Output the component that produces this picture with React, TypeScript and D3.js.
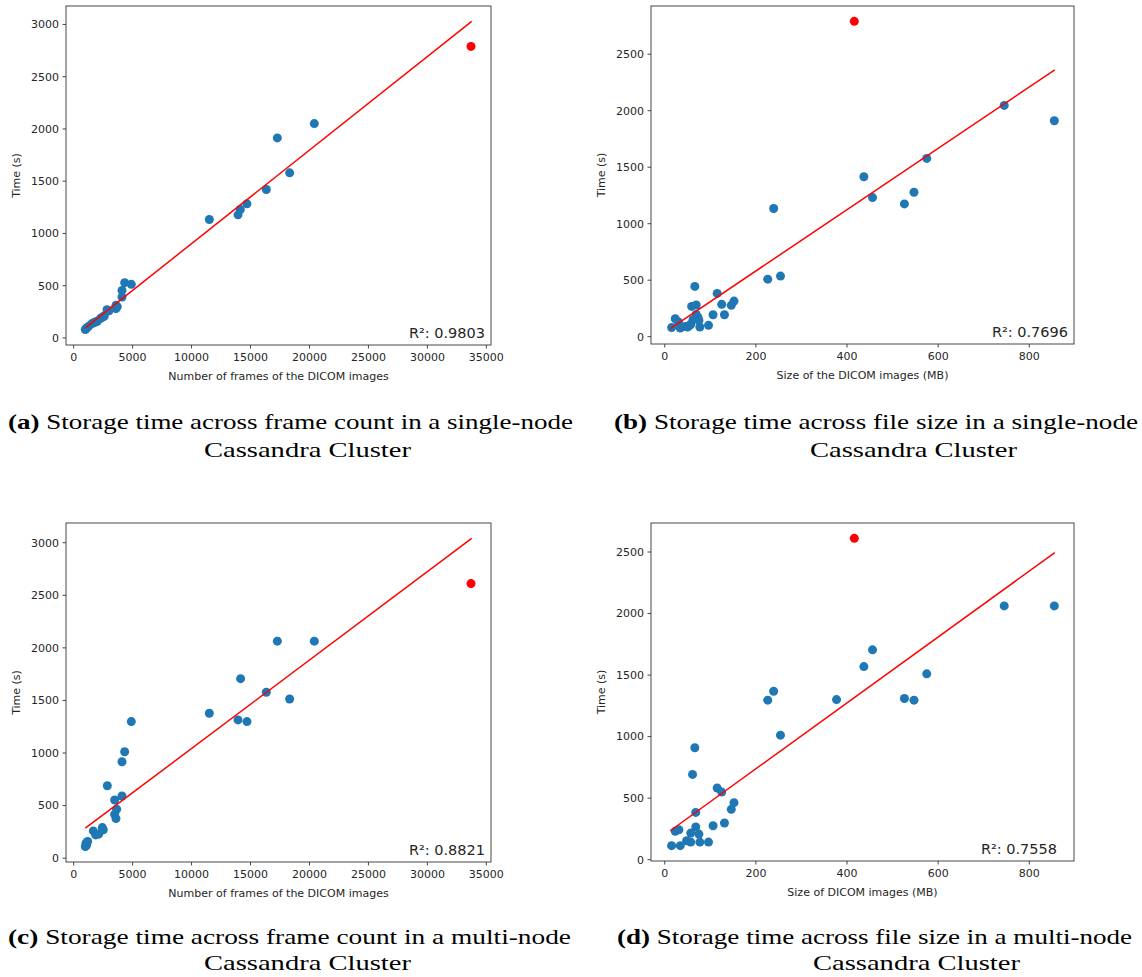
import React from "react";
import * as d3 from "d3";

// storage times
const framesSingle = [990, 1046, 1100, 1272, 1555, 1700, 1838, 2000, 2262, 2460, 2600, 2827, 3000, 3590, 3590, 3700, 4100, 4100, 4326, 4891, 11507, 13940, 14135, 14700, 16340, 17275, 18320, 20410];
const timeSingleByFrames = [80, 89, 95, 111, 137, 145, 153, 160, 185, 200, 210, 271, 260, 280, 312, 300, 392, 455, 529, 513, 1134, 1178, 1229, 1283, 1420, 1914, 1580, 2051];

const framesMulti = [990, 1046, 1100, 1187, 1668, 1866, 2120, 2431, 2516, 2856, 3477, 3477, 3590, 3647, 4100, 4100, 4326, 4891, 11507, 13940, 14160, 14700, 16340, 17275, 18320, 20410];
const timeMultiByFrames = [110, 142, 125, 158, 259, 221, 228, 291, 269, 689, 553, 417, 376, 465, 591, 917, 1012, 1299, 1378, 1315, 1707, 1299, 1578, 2064, 1514, 2064];

const sizeSingle = [15, 23, 30, 34, 45, 50, 55, 57, 59, 62, 66, 69, 69, 73, 75, 77, 96, 106, 115, 125, 131, 146, 152, 226, 239, 254, 437, 456, 526, 547, 575, 745, 855];
const timeSingleBySize = [80, 159, 130, 77, 90, 85, 100, 109, 268, 150, 445, 280, 197, 170, 144, 85, 100, 194, 383, 286, 194, 277, 315, 509, 1134, 536, 1416, 1231, 1175, 1278, 1578, 2047, 1911];

const sizeMulti = [15, 23, 31, 34, 48, 57, 57, 61, 66, 68, 68, 75, 77, 96, 106, 115, 125, 131, 146, 152, 226, 239, 254, 377, 437, 456, 526, 547, 575, 745, 855];
const timeMultiBySize = [114, 230, 243, 114, 154, 143, 216, 693, 909, 384, 265, 208, 143, 143, 276, 582, 549, 298, 409, 463, 1296, 1369, 1012, 1301, 1569, 1705, 1310, 1296, 1510, 2062, 2062];

// the red point (largest study) and regression line ends [x, y]
const outlierA = [33700, 2790];
const outlierB = [416, 2791];
const outlierC = [33700, 2611];
const outlierD = [416, 2611];
const fitA = [[990, 96], [33757, 3029]];
const fitB = [[12, 71], [856, 2362]];
const fitC = [[990, 285], [33757, 3041]];
const fitD = [[12, 235], [856, 2495]];

const r2Labels = ["R²: 0.9803", "R²: 0.7696", "R²: 0.8821", "R²: 0.7558"];

const framesTicks = [0, 5000, 10000, 15000, 20000, 25000, 30000, 35000];
const sizeTicks = [0, 200, 400, 600, 800];
const time3000Ticks = [0, 500, 1000, 1500, 2000, 2500, 3000];
const time2500Ticks = [0, 500, 1000, 1500, 2000, 2500];

const captionLabels = ["(a)", "(b)", "(c)", "(d)"];
const captionLine1 = [
  "Storage time across frame count in a single-node",
  "Storage time across file size in a single-node",
  "Storage time across frame count in a multi-node",
  "Storage time across file size in a multi-node",
];
const captionLine2 = "Cassandra Cluster";

const sans = "'DejaVu Sans', sans-serif";
const serif = "'Liberation Serif', serif";

// matplotlib style autoscale: 5% margin on each side
function padded(vals) {
  const [lo, hi] = d3.extent(vals);
  const m = (hi - lo) * 0.05;
  return [lo - m, hi + m];
}

function Scatter({ box, xs, ys, outlier, fit, xTicks, yTicks, xLabel, r2, r2Shift = 0 }) {
  const { left, top, right, bottom } = box;
  const allX = [...xs, outlier[0], ...fit.map(d => d[0])];
  const allY = [...ys, outlier[1], ...fit.map(d => d[1])];
  const x = d3.scaleLinear().domain(padded(allX)).range([left, right]);
  const y = d3.scaleLinear().domain(padded(allY)).range([bottom, top]);
  const line = d3.line().x(d => x(d[0])).y(d => y(d[1]));

  return (
    <g fontFamily={sans} fill="#262626">
      {xs.map((v, i) => (
        <circle key={i} cx={x(v)} cy={y(ys[i])} r={4.5} fill="#1f77b4" />
      ))}
      <circle cx={x(outlier[0])} cy={y(outlier[1])} r={4.5} fill="red" />
      <path d={line(fit)} stroke="red" strokeWidth={1.5} fill="none" />
      <rect x={left} y={top} width={right - left} height={bottom - top} fill="none" stroke="#333" strokeWidth={0.9} />
      {xTicks.map(t => (
        <g key={t} transform={`translate(${x(t)},${bottom})`}>
          <line y2={3.5} stroke="#333" strokeWidth={0.9} />
          <text y={16} textAnchor="middle" fontSize={11}>{t}</text>
        </g>
      ))}
      {yTicks.map(t => (
        <g key={t} transform={`translate(${left},${y(t)})`}>
          <line x2={-3.5} stroke="#333" strokeWidth={0.9} />
          <text x={-7} dy="0.35em" textAnchor="end" fontSize={11}>{t}</text>
        </g>
      ))}
      <text x={(left + right) / 2} y={bottom + 35} textAnchor="middle" fontSize={11}>{xLabel}</text>
      <text transform={`translate(${left - 46},${(top + bottom) / 2}) rotate(-90)`} textAnchor="middle" fontSize={11}>Time (s)</text>
      <text x={right - 6 - r2Shift} y={bottom - 7} textAnchor="end" fontSize={14.5}>{r2}</text>
    </g>
  );
}

// LaTeX subcaption: first line centred, second line centred past the hanging label
function Caption({ x0, x1, y, label, text, gap = 28 }) {
  return (
    <g fontFamily={serif} fontSize={21} fill="#000">
      <text x={x0} y={y} textLength={x1 - x0} lengthAdjust="spacingAndGlyphs">
        <tspan fontWeight="bold">{label}</tspan> {text}
      </text>
      <text x={x0 + 196} y={y + gap} textLength={207} lengthAdjust="spacingAndGlyphs">{captionLine2}</text>
    </g>
  );
}

export default function App() {
  const boxA = { left: 66, top: 6, right: 491, bottom: 345 };
  const boxB = { left: 651, top: 6, right: 1074, bottom: 344 };
  const boxC = { left: 66, top: 523, right: 491, bottom: 862 };
  const boxD = { left: 651, top: 523, right: 1074, bottom: 861 };
  return (
    <svg width={1142} height={977} style={{ position: "absolute", left: 0, top: 0, background: "#fff" }}>
      <rect width={1142} height={977} fill="#fff" />
      <Scatter box={boxA} xs={framesSingle} ys={timeSingleByFrames} outlier={outlierA} fit={fitA}
        xTicks={framesTicks} yTicks={time3000Ticks} xLabel="Number of frames of the DICOM images" r2={r2Labels[0]} />
      <Scatter box={boxB} xs={sizeSingle} ys={timeSingleBySize} outlier={outlierB} fit={fitB}
        xTicks={sizeTicks} yTicks={time2500Ticks} xLabel="Size of the DICOM images (MB)" r2={r2Labels[1]} />
      <Scatter box={boxC} xs={framesMulti} ys={timeMultiByFrames} outlier={outlierC} fit={fitC}
        xTicks={framesTicks} yTicks={time3000Ticks} xLabel="Number of frames of the DICOM images" r2={r2Labels[2]} />
      <Scatter box={boxD} xs={sizeMulti} ys={timeMultiBySize} outlier={outlierD} fit={fitD}
        xTicks={sizeTicks} yTicks={time2500Ticks} xLabel="Size of DICOM images (MB)" r2={r2Labels[3]} r2Shift={11} />
      <Caption x0={8} x1={573} y={429} label={captionLabels[0]} text={captionLine1[0]} />
      <Caption x0={614} x1={1138} y={429} label={captionLabels[1]} text={captionLine1[1]} />
      <Caption x0={8} x1={571} y={944} gap={26} label={captionLabels[2]} text={captionLine1[2]} />
      <Caption x0={617} x1={1132} y={944} gap={26} label={captionLabels[3]} text={captionLine1[3]} />
    </svg>
  );
}
